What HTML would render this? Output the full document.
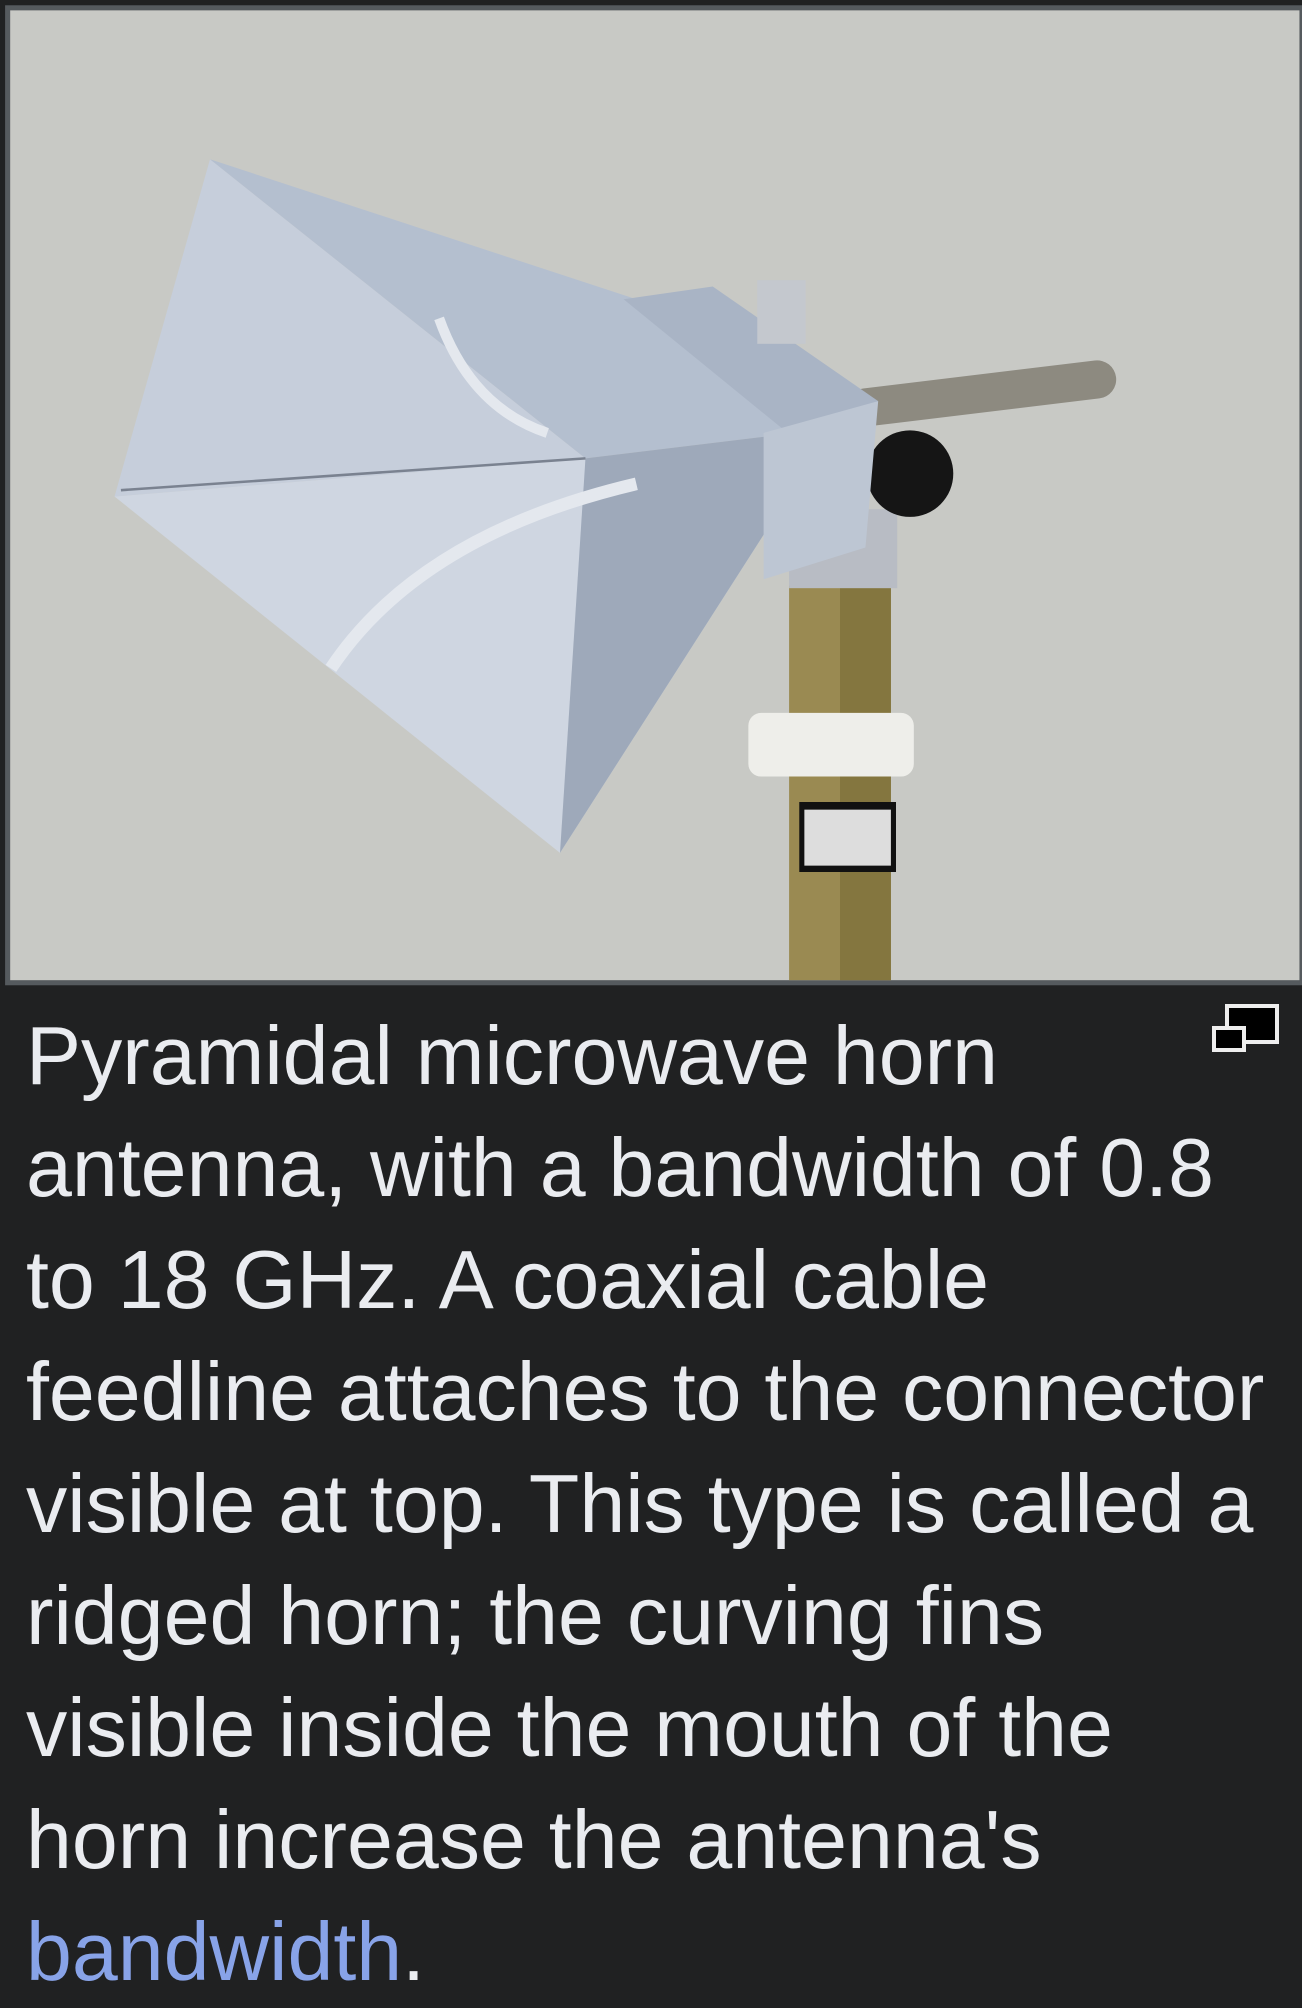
<!DOCTYPE html>
<html><head><meta charset="utf-8">
<style>
html,body{margin:0;padding:0;background:#202122;width:1302px;height:1996px;overflow:hidden;}
#photo{position:absolute;left:0;top:0;}
#caption{position:absolute;left:26px;top:1000px;width:1270px;font-family:"Liberation Sans",sans-serif;font-size:82.5px;line-height:112px;color:#eaecf0;margin:0;white-space:nowrap;}
#caption a{color:#88a3e8;text-decoration:none;}
</style></head>
<body>
<svg id="photo" width="1302" height="1996" viewBox="0 0 1023 1568">
 <rect x="6" y="6" width="1017" height="766" fill="#c8c9c5" stroke="#555a5e" stroke-width="4"/>
 <g>
  <rect x="620" y="460" width="80" height="310" fill="#9a8a52"/>
  <rect x="660" y="460" width="40" height="310" fill="#84763f"/>
  <rect x="588" y="560" width="130" height="50" rx="10" fill="#eeeeea"/>
  <rect x="628" y="630" width="76" height="55" fill="#111"/>
  <rect x="632" y="636" width="68" height="44" fill="#ddd"/>
  <line x1="680" y1="320" x2="862" y2="298" stroke="#8d8a80" stroke-width="30" stroke-linecap="round"/>
  <rect x="620" y="400" width="85" height="62" fill="#b8bcc4"/>
  <circle cx="715" cy="372" r="34" fill="#151515"/>
  <polygon points="165,125 460,360 90,390" fill="#c6cedb"/>
  <polygon points="165,125 500,235 625,340 460,360" fill="#b4bfcf"/>
  <polygon points="90,390 460,360 600,420 440,670" fill="#cfd6e1"/>
  <polygon points="460,360 625,340 600,420 440,670" fill="#9ea9ba"/>
  <polygon points="490,235 560,225 690,315 625,345" fill="#a9b4c5"/>
  <polygon points="600,340 690,315 680,430 600,455" fill="#bdc6d3"/>
  <rect x="595" y="220" width="38" height="50" fill="#c4c8ce"/>
  <path d="M260,525 Q330,420 500,380" stroke="#e4e8ee" stroke-width="10" fill="none"/>
  <path d="M345,250 Q370,320 430,340" stroke="#e4e8ee" stroke-width="8" fill="none"/>
  <line x1="95" y1="385" x2="460" y2="360" stroke="#7a8290" stroke-width="2"/>
 </g>
</svg>
<svg style="position:absolute;left:1205px;top:1000px" width="80" height="56">
 <rect x="22" y="6" width="50" height="36" fill="#000" stroke="#eee" stroke-width="4"/>
 <rect x="9" y="28" width="30" height="22" fill="#000" stroke="#eee" stroke-width="4"/>
</svg>
<p id="caption">Pyramidal microwave horn<br>antenna, with a bandwidth of 0.8<br>to 18 GHz. A coaxial cable<br>feedline attaches to the connector<br>visible at top. This type is called a<br>ridged horn; the curving fins<br>visible inside the mouth of the<br>horn increase the antenna's<br><a>bandwidth</a>.</p>
</body></html>
